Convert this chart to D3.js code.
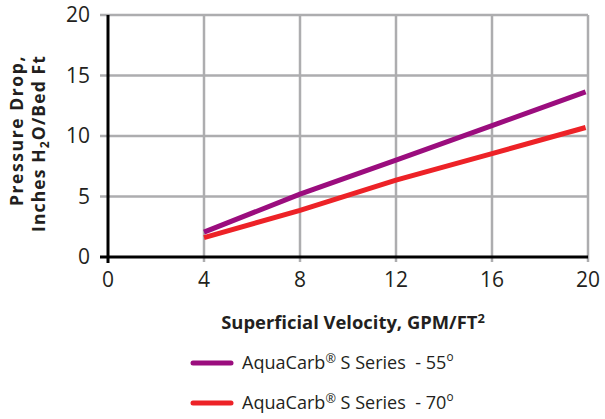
<!DOCTYPE html>
<html>
<head>
<meta charset="utf-8">
<script src="https://cdn.jsdelivr.net/npm/d3@7"></script>
<style>
  body { margin: 0; background: #fff; }
  text { font-family: "Open Sans", "Noto Sans", sans-serif; fill: #231f20; }
  .tick-label { font-size: 21px; }
  .axis-title { font-size: 17px; font-weight: bold; }
  .legend-label { font-size: 18px; }
</style>
</head>
<body>
<script>
const WIDTH = 605, HEIGHT = 419;
const MARGINS = { top: 15, right: 17, bottom: 162, left: 108 };

// data
const xTicks = [0, 4, 8, 12, 16, 20];
const yTicks = [0, 5, 10, 15, 20];
const velocity = [4, 8, 12, 16, 19.9];
const series55 = [2.05, 5.2, 8.0, 10.85, 13.65];
const series70 = [1.6, 3.85, 6.35, 8.55, 10.7];
const seriesNames = ["AquaCarb® S Series  - 55°", "AquaCarb® S Series  - 70°"];
const seriesColors = ["#9b0d7e", "#ed2227"];

const xScale = d3.scaleLinear().domain([0, 20]).range([MARGINS.left, WIDTH - MARGINS.right]);
const yScale = d3.scaleLinear().domain([0, 20]).range([HEIGHT - MARGINS.bottom, MARGINS.top]);

const svg = d3.select("body").append("svg")
    .attr("width", WIDTH)
    .attr("height", HEIGHT);

// scale a text's font so it covers the given width
function fitWidth(sel, target) {
    const fs = parseFloat(getComputedStyle(sel.node()).fontSize);
    const w = sel.node().getComputedTextLength();
    const nfs = fs * target / w;
    sel.style("font-size", nfs + "px");
    sel.selectAll("tspan.small").each(function() {
        const s = d3.select(this);
        s.style("font-size", parseFloat(s.attr("data-rel")) * nfs + "px");
    });
}

// spread the letters to cover what the font leaves short
function spreadWidth(sel, target) {
    const w = sel.node().getComputedTextLength();
    const n = sel.text().length;
    sel.style("letter-spacing", ((target - w) / n) + "px");
}

// horizontal grid lines
svg.append("g")
    .selectAll("line")
    .data(yTicks.filter(d => d > 0))
    .join("line")
    .attr("x1", xScale(0) - 8)
    .attr("x2", xScale(20))
    .attr("y1", d => yScale(d))
    .attr("y2", d => yScale(d))
    .style("stroke", "#adadaf")
    .style("stroke-width", 2.5);

// vertical grid lines
svg.append("g")
    .selectAll("line")
    .data(xTicks.filter(d => d > 0))
    .join("line")
    .attr("x1", d => xScale(d))
    .attr("x2", d => xScale(d))
    .attr("y1", yScale(20))
    .attr("y2", yScale(0) + 5)
    .style("stroke", "#adadaf")
    .style("stroke-width", 2.5);

// axes
svg.append("line")
    .attr("x1", xScale(0)).attr("x2", xScale(0))
    .attr("y1", yScale(20)).attr("y2", yScale(0) + 6)
    .style("stroke", "#000").style("stroke-width", 3);
svg.append("line")
    .attr("x1", xScale(0) - 8).attr("x2", xScale(20))
    .attr("y1", yScale(0)).attr("y2", yScale(0))
    .style("stroke", "#000").style("stroke-width", 3);

// tick labels
svg.append("g")
    .selectAll("text")
    .data(xTicks)
    .join("text")
    .attr("class", "tick-label")
    .attr("x", d => xScale(d))
    .attr("y", yScale(0) + 30)
    .attr("text-anchor", "middle")
    .text(d => d);

svg.append("g")
    .selectAll("text")
    .data(yTicks)
    .join("text")
    .attr("class", "tick-label")
    .attr("x", xScale(0) - 18)
    .attr("y", d => yScale(d) + 7)
    .attr("text-anchor", "end")
    .text(d => d);

// axis titles
const xTitle = svg.append("text")
    .attr("class", "axis-title")
    .attr("x", 353)
    .attr("y", 329)
    .attr("text-anchor", "middle");
xTitle.append("tspan").text("Superficial Velocity, GPM/FT");
xTitle.append("tspan").attr("class", "small").attr("data-rel", 0.7).attr("dy", -6).text("2");
fitWidth(xTitle, 267);

const yTitle = svg.append("g")
    .attr("transform", "rotate(-90)");
const yTitle1 = yTitle.append("text")
    .attr("class", "axis-title")
    .style("font-size", "17.5px")
    .attr("x", -55)
    .attr("y", 23)
    .attr("text-anchor", "end")
    .text("Pressure Drop,");
spreadWidth(yTitle1, 151);
const yTitle2 = yTitle.append("text")
    .attr("class", "axis-title")
    .style("font-size", "17.5px")
    .attr("x", -55)
    .attr("y", 45)
    .attr("text-anchor", "end");
yTitle2.append("tspan").text("Inches H");
yTitle2.append("tspan").style("font-size", "12px").attr("dy", 4).text("2");
yTitle2.append("tspan").attr("dy", -4).text("O/Bed Ft");
spreadWidth(yTitle2, 177);

// data lines
const line = d3.line()
    .x(d => xScale(d[0]))
    .y(d => yScale(d[1]));

[series55, series70].forEach((s, i) => {
    svg.append("path")
        .datum(velocity.map((v, j) => [v, s[j]]))
        .attr("d", line)
        .style("fill", "none")
        .style("stroke", seriesColors[i])
        .style("stroke-width", 5);
});

// legend
seriesNames.forEach((name, i) => {
    const y = 363 + i * 40;
    svg.append("line")
        .attr("x1", 193).attr("x2", 231)
        .attr("y1", y).attr("y2", y)
        .style("stroke", seriesColors[i])
        .style("stroke-width", 5)
        .style("stroke-linecap", "round");
    const parts = name.split(/(®|°)/);
    const t = svg.append("text")
        .attr("class", "legend-label")
        .attr("x", 242)
        .attr("y", y + 6)
        .style("white-space", "pre");
    let raised = 0;
    parts.forEach(p => {
        if (p === "®") {
            t.append("tspan").attr("class", "small").attr("data-rel", 0.7)
                .attr("dy", -6).text("®");
            raised = 6;
        } else if (p === "°") {
            t.append("tspan").attr("class", "small").attr("data-rel", 0.65)
                .attr("dy", -8).text("o");
        } else if (p) {
            t.append("tspan").attr("dy", raised).text(p);
            raised = 0;
        }
    });
    fitWidth(t, 220);
});
</script>
</body>
</html>
